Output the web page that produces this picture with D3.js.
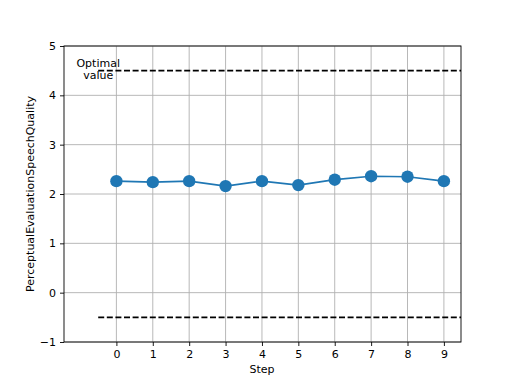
<!DOCTYPE html>
<html>
<head>
<meta charset="utf-8">
<script src="https://cdn.jsdelivr.net/npm/d3@7"></script>
<style>
  body { margin: 0; background: #fff; }
  svg text { font-family: "DejaVu Sans", sans-serif; }
</style>
</head>
<body>
<svg width="512" height="384"></svg>
<script>
// data
var steps = [0, 1, 2, 3, 4, 5, 6, 7, 8, 9];
var pesq = [2.26, 2.24, 2.26, 2.16, 2.26, 2.18, 2.29, 2.36, 2.35, 2.26];
var refLines = [4.5, -0.5];
var yTicks = [-1, 0, 1, 2, 3, 4, 5];
var optimalLabel = ["Optimal", "value"];

var svg = d3.select("svg");
var margin = { left: 64, right: 51, top: 46, bottom: 42 };
var width = 512 - margin.left - margin.right,
    height = 384 - margin.top - margin.bottom;

var x = d3.scaleLinear().domain([-1.44, 9.47]).range([0, width]);
var y = d3.scaleLinear().domain([-1, 5]).range([height, 0]);

var g = svg.append("g")
    .attr("transform", "translate(" + margin.left + "," + margin.top + ")");

// grid
g.selectAll(".vgrid").data(steps).enter().append("line")
    .attr("x1", d => x(d)).attr("x2", d => x(d))
    .attr("y1", 0).attr("y2", height)
    .style("stroke", "#b0b0b0").style("stroke-width", 0.9);
g.selectAll(".hgrid").data(yTicks).enter().append("line")
    .attr("x1", 0).attr("x2", width)
    .attr("y1", d => y(d)).attr("y2", d => y(d))
    .style("stroke", "#b0b0b0").style("stroke-width", 0.9);

// axes
var xAxis = g.append("g")
    .attr("transform", "translate(0," + height + ")")
    .call(d3.axisBottom(x).tickValues(steps).tickSize(4).tickPadding(4).tickFormat(d3.format("d")));
var yAxis = g.append("g")
    .call(d3.axisLeft(y).tickValues(yTicks).tickSize(4).tickPadding(4)
        .tickFormat(d => d < 0 ? "\u2212" + Math.abs(d) : d));
[xAxis, yAxis].forEach(a => {
    a.select(".domain").remove();
    a.selectAll("text").style("font-size", "11px").style("fill", "#000");
    a.selectAll("line").style("stroke", "#000").style("stroke-width", 0.9);
});

// reference lines
g.selectAll(".ref").data(refLines).enter().append("line")
    .attr("x1", x(-0.5)).attr("x2", width)
    .attr("y1", d => y(d)).attr("y2", d => y(d))
    .style("stroke", "#000").style("stroke-width", 1.6)
    .style("stroke-dasharray", "6,2.6");

g.append("text")
    .attr("x", x(-0.5))
    .attr("y", y(4.5))
    .attr("text-anchor", "middle")
    .style("font-size", "11px")
    .selectAll("tspan").data(optimalLabel).enter().append("tspan")
    .attr("x", x(-0.5))
    .attr("dy", (d, i) => i == 0 ? "-0.35em" : "1.1em")
    .text(d => d);

// series
var line = d3.line().x((d, i) => x(steps[i])).y(d => y(d));
g.append("path")
    .datum(pesq)
    .attr("d", line)
    .style("fill", "none")
    .style("stroke", "#1f77b4")
    .style("stroke-width", 1.7);
g.selectAll(".pt").data(pesq).enter().append("circle")
    .attr("cx", (d, i) => x(steps[i]))
    .attr("cy", d => y(d))
    .attr("r", 6.2)
    .style("fill", "#1f77b4");

// frame
g.append("rect")
    .attr("width", width).attr("height", height)
    .style("fill", "none").style("stroke", "#000").style("stroke-width", 0.9);

// labels
svg.append("text")
    .attr("x", margin.left + x(4))
    .attr("y", 373)
    .attr("text-anchor", "middle")
    .style("font-size", "11px")
    .text("Step");
svg.append("text")
    .attr("transform", "translate(34," + (margin.top + height / 2) + ") rotate(-90)")
    .attr("text-anchor", "middle")
    .style("font-size", "11px")
    .text("PerceptualEvaluationSpeechQuality");
</script>
</body>
</html>
